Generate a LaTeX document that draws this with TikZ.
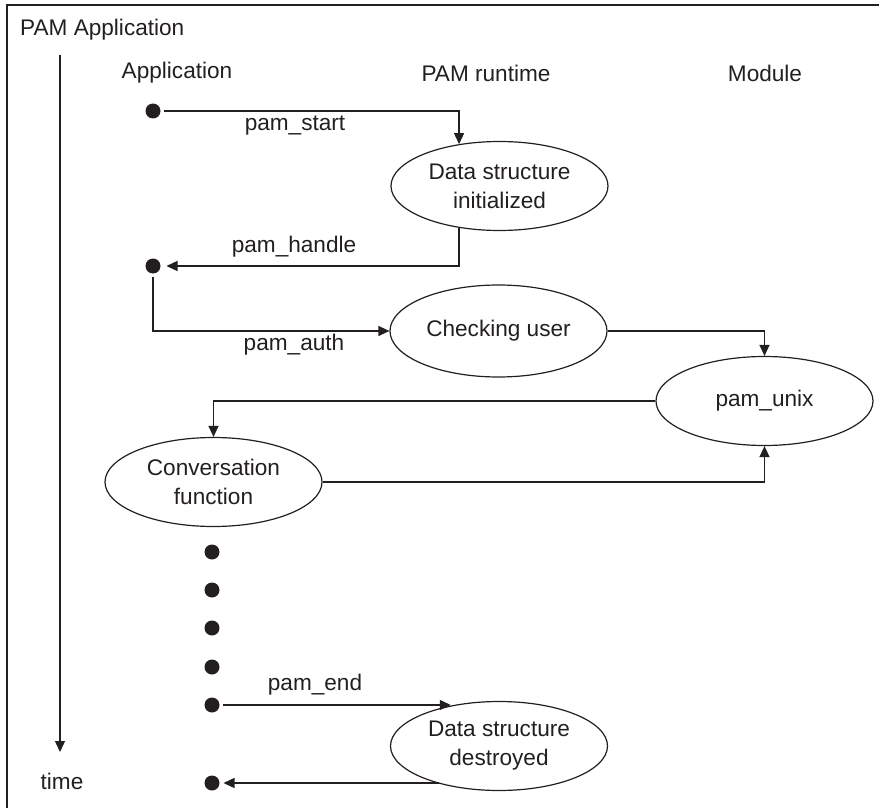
\documentclass[tikz,border=0pt]{standalone}
\usepackage{fontspec}
\setmainfont{Liberation Sans}
\usetikzlibrary{arrows.meta,shapes.geometric}
\definecolor{ink}{HTML}{231F20}
\begin{document}
\begin{tikzpicture}[x=1pt,y=-1pt,
  every node/.style={font=\fontsize{22.6}{29}\selectfont, text=ink},
  blob/.style={circle,fill=ink,draw=none,inner sep=0pt,minimum size=15pt,outer sep=3pt},
  oval/.style={ellipse,draw=ink,line width=1.2pt,inner sep=0pt,minimum width=217pt,minimum height=89pt,align=center},
  conn/.style={draw=ink,line width=1.3pt,-{Triangle[length=11pt,width=10pt]}},
  lbl/.style={inner sep=0pt}]
\useasboundingbox (0,0) rectangle (879,808);
\draw[ink,line width=1.5pt] (7,808) -- (7,5) -- (879,5);

% titles
\node[lbl,anchor=west] (title) at (20,30) {PAM Application};
\node[lbl] (happ) at (177,73) {Application};
\node[lbl] (hrun) at (486,73) {PAM runtime};
\node[lbl] (hmod) at (765,73) {Module};

% time axis
\coordinate (t0) at (60,55);
\coordinate (t1) at (60,752);
\draw[conn] (t0) -- (t1);
\node[lbl] (time) at (62,781) {time};

% dots
\node[blob] (d1) at (153,111) {};
\node[blob] (d2) at (153,266) {};
\node[blob] (d3a) at (212,552) {};
\node[blob] (d3b) at (212,590) {};
\node[blob] (d3c) at (212,628) {};
\node[blob] (d3d) at (212,667) {};
\node[blob] (d5) at (212,705) {};
\node[blob] (d6) at (212,783) {};

% ellipses
\node[oval] (e1) at (499.5,186) {Data structure\\initialized};
\node[oval,minimum height=92pt] (e2) at (498.5,331) {Checking user};
\node[oval] (e4) at (764.5,401) {pam\_unix};
\node[oval] (e5) at (213.5,482) {Conversation\\function};
\node[oval] (e3) at (499,746) {Data structure\\destroyed};

% connectors
\draw[conn] (d1) -| (e1.134);
\draw[conn,shorten >=3pt] (e1.226) |- (d2);
\draw[conn] (d2) |- (e2.west);
\draw[conn] (e2.east) -| (e4.north);
\draw[conn] (e4.west) -| (e5.north);
\draw[conn] (e5.east) -| (e4.south);
\draw[conn] (d5) -- (d5 -| e3.140);
\draw[conn,shorten >=1pt] (d6 -| e3.212) -- (d6);

% labels
\node[lbl] (lstart) at (295,126) {pam\_start};
\node[lbl] (lhandle) at (294,247) {pam\_handle};
\node[lbl] (lauth) at (294,345) {pam\_auth};
\node[lbl] (lend) at (315,685) {pam\_end};
\end{tikzpicture}
\end{document}
